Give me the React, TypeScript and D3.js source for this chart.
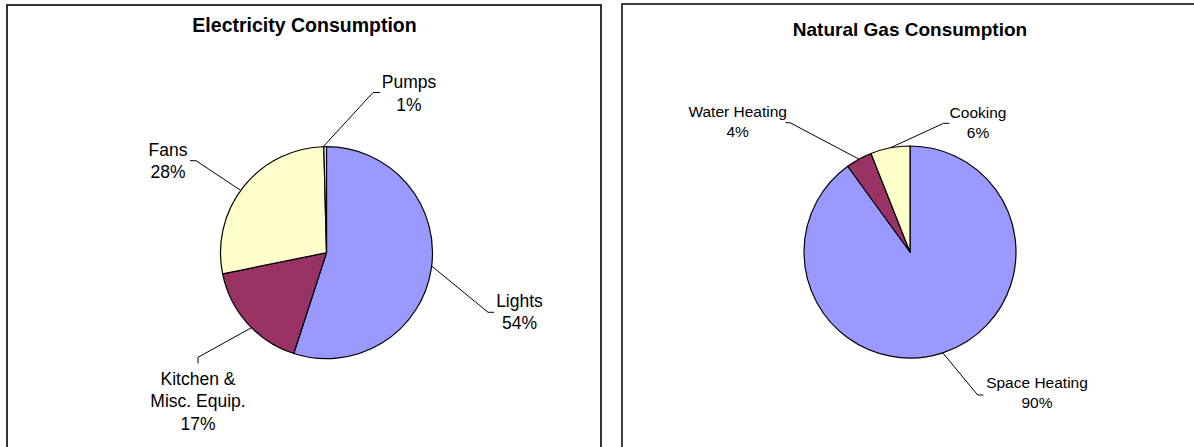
import React from "react";
import * as d3 from "d3";

// ---------- data ----------
const elecCategories = ["Lights", "Kitchen & Misc. Equip.", "Fans", "Pumps"];
const elecLabelLines = [["Lights"], ["Kitchen &", "Misc. Equip."], ["Fans"], ["Pumps"]];
const elecPercents = [54, 17, 28, 1]; // data-label values
const elecDrawnShares = [55, 16.8, 27.8, 0.4]; // slice sizes
const elecColors = ["#9999FF", "#993366", "#FFFFCC", "#CCFFFF"];

const gasCategories = ["Space Heating", "Water Heating", "Cooking"];
const gasLabelLines = [["Space Heating"], ["Water Heating"], ["Cooking"]];
const gasPercents = [90, 4, 6];
const gasDrawnShares = [90, 4, 6];
const gasColors = ["#9999FF", "#993366", "#FFFFCC"];

// ---------- layout ----------
const FONT = "'Liberation Sans', Arial, Helvetica, sans-serif";
const R = 106;

type LabelLayout = { lx: number; ly: number; ex: number; ey: number; tx: number; ty: number };

const elecLayout = {
  title: "Electricity Consumption",
  titleX: 304.5,
  titleY: 31.5,
  titleSize: 19.5,
  cx: 326.5,
  cy: 252.7,
  fontSize: 17.5,
  lineH: 22.3,
  labels: [
    { lx: 519.5, ly: 307, ex: 488, ey: 312.3, tx: 494, ty: 312.3 },
    { lx: 198, ly: 385, ex: 198, ey: 357.3, tx: 198, ty: 363.5 },
    { lx: 168, ly: 155.5, ex: 196, ey: 160.7, tx: 190, ty: 160.7 },
    { lx: 409, ly: 88.3, ex: 373, ey: 92.5, tx: 380, ty: 92.5 },
  ] as LabelLayout[],
};

const gasLayout = {
  title: "Natural Gas Consumption",
  titleX: 910,
  titleY: 36,
  titleSize: 19,
  cx: 910,
  cy: 252,
  fontSize: 15.5,
  lineH: 20,
  labels: [
    { lx: 1037, ly: 388.3, ex: 977.7, ey: 395, tx: 983.4, ty: 395 },
    { lx: 737.7, ly: 116.7, ex: 790, ey: 122.7, tx: 785.5, ty: 122.7 },
    { lx: 978, ly: 118.3, ex: 943.6, ey: 123.3, tx: 949.3, ty: 123.3 },
  ] as LabelLayout[],
};

function PieChart(props: {
  categories: string[];
  lines: string[][];
  percents: number[];
  shares: number[];
  colors: string[];
  layout: typeof elecLayout;
}) {
  const { categories, lines, percents, shares, colors, layout } = props;
  const pie = d3.pie<number>().sort(null).value((d) => d).startAngle(0).endAngle(2 * Math.PI);
  const drawn = pie(shares);
  const labelArcs = pie(percents);
  const arc = d3.arc<d3.PieArcDatum<number>>().innerRadius(0).outerRadius(R);
  return (
    <g>
      <g transform={`translate(${layout.cx},${layout.cy})`}>
        {drawn.map((d, i) => (
          <path key={categories[i]} d={arc(d) || ""} fill={colors[i]} stroke="#000" strokeWidth={1.2} strokeLinejoin="round" />
        ))}
      </g>
      <text x={layout.titleX} y={layout.titleY} textAnchor="middle" fontFamily={FONT} fontWeight="bold" fontSize={layout.titleSize} fill="#000">
        {layout.title}
      </text>
      {labelArcs.map((d, i) => {
        const a = (d.startAngle + d.endAngle) / 2;
        const sx = layout.cx + R * Math.sin(a);
        const sy = layout.cy - R * Math.cos(a);
        const L = layout.labels[i];
        const texts = [...lines[i], `${percents[i]}%`];
        return (
          <g key={"lbl" + i}>
            <polyline points={`${sx},${sy} ${L.ex},${L.ey} ${L.tx},${L.ty}`} fill="none" stroke="#000" strokeWidth={1} />
            <text textAnchor="middle" fontFamily={FONT} fontSize={layout.fontSize} fill="#000">
              {texts.map((t, j) => (
                <tspan key={j} x={L.lx} y={L.ly + j * layout.lineH}>
                  {t}
                </tspan>
              ))}
            </text>
          </g>
        );
      })}
    </g>
  );
}

export default function App() {
  return (
    <div style={{ position: "absolute", left: 0, top: 0 }}>
      <svg width={1194} height={447} style={{ display: "block", background: "#fff" }}>
        <rect x={0} y={0} width={1194} height={447} fill="#fff" />
        <rect x={7} y={5} width={594} height={470} fill="#fff" stroke="#333" strokeWidth={2} />
        <rect x={622} y={4} width={600} height={470} fill="#fff" stroke="#111" strokeWidth={1.6} />
        <PieChart
          categories={elecCategories}
          lines={elecLabelLines}
          percents={elecPercents}
          shares={elecDrawnShares}
          colors={elecColors}
          layout={elecLayout}
        />
        <PieChart
          categories={gasCategories}
          lines={gasLabelLines}
          percents={gasPercents}
          shares={gasDrawnShares}
          colors={gasColors}
          layout={gasLayout}
        />
      </svg>
    </div>
  );
}
